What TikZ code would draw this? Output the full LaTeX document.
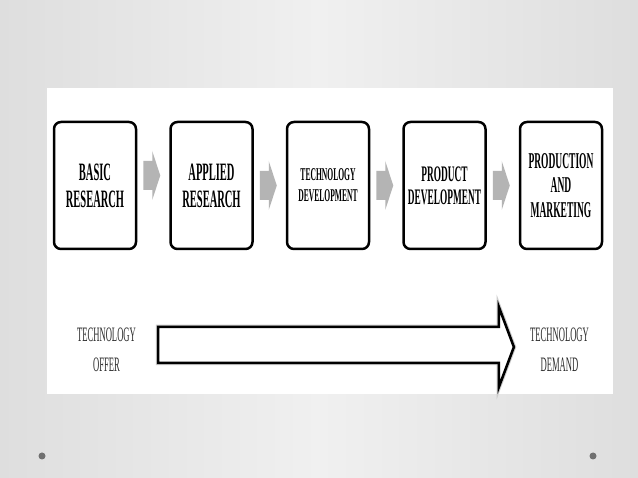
\documentclass[tikz,border=0pt]{standalone}
\usepackage{fontspec}
\usetikzlibrary{positioning,calc}
\newfontfamily\slidefont[FakeStretch=0.42]{Liberation Serif}
\definecolor{slidegray}{RGB}{222,222,222}
\definecolor{slidelight}{RGB}{240,240,240}
\definecolor{arrowgray}{RGB}{180,180,180}
\definecolor{dotgray}{RGB}{112,112,112}
\definecolor{offergray}{RGB}{45,45,45}

\begin{document}
\begin{tikzpicture}[x=1pt, y=-1pt,
    stage/.style={draw, line width=2.5pt, rounded corners=7pt, fill=white,
      minimum width=82pt, minimum height=127pt, align=center, inner sep=0pt,
      font=\slidefont\bfseries#1},
    flow/.style={align=center, inner sep=0pt, text=offergray,
      font=\slidefont\fontsize{20.5}{30}\selectfont}]
    % slide background
    \shade[left color=slidegray, right color=slidegray, middle color=slidelight] (0,0) rectangle (638,478);
    \fill[white] (47,88) rectangle (613,394);

    % stages
    \node[stage={\fontsize{25}{27}\selectfont}] (basic) at (95,185.5) {BASIC\\RESEARCH};
    \node[stage={\fontsize{25}{27}\selectfont}, right=32pt of basic] (applied) {APPLIED\\RESEARCH};
    \node[stage={\fontsize{18}{21}\selectfont}, right=32pt of applied] (techdev) {TECHNOLOGY\\DEVELOPMENT};
    \node[stage={\fontsize{22.2}{23}\selectfont}, right=32pt of techdev] (proddev) {PRODUCT\\DEVELOPMENT};
    \node[stage={\fontsize{22.6}{24.5}\selectfont}, right=32pt of proddev] (prodmkt) {PRODUCTION\\AND\\MARKETING};

    % gray arrows between stages
    \foreach \a/\b/\dy in {basic/applied/-10, applied/techdev/0, techdev/proddev/0, proddev/prodmkt/0}
      \fill[arrowgray] ($(\a.east)+(6,\dy-14.5)$) -- ($(\b.west)+(-17,\dy-14.5)$)
        -- ($(\b.west)+(-17,\dy-24.5)$) -- ($(\b.west)+(-9,\dy)$)
        -- ($(\b.west)+(-17,\dy+24.5)$) -- ($(\b.west)+(-17,\dy+14.5)$)
        -- ($(\a.east)+(6,\dy+14.5)$) -- cycle;

    % offer and demand
    \node[flow] (offer) at (106.5,349.5) {TECHNOLOGY\\OFFER};
    \node[flow] (demand) at (559.5,349.5) {TECHNOLOGY\\DEMAND};

    % big arrow
    \draw[line width=2.5pt, fill=white, preaction={draw=gray!40, line width=4.5pt}]
      ($(offer.east)+(22,-22.5)$) -- ($(demand.west)+(-31,-22.5)$)
      -- ($(demand.west)+(-31,-42.5)$) -- ($(demand.west)+(-16,-2.5)$)
      -- ($(demand.west)+(-31,37.5)$) -- ($(demand.west)+(-31,13.5)$)
      -- ($(offer.east)+(22,13.5)$) -- cycle;

    % slide dots
    \fill[dotgray] (42,456) circle (3.5);
    \fill[dotgray] (593,456) circle (3.5);
\end{tikzpicture}
\end{document}
